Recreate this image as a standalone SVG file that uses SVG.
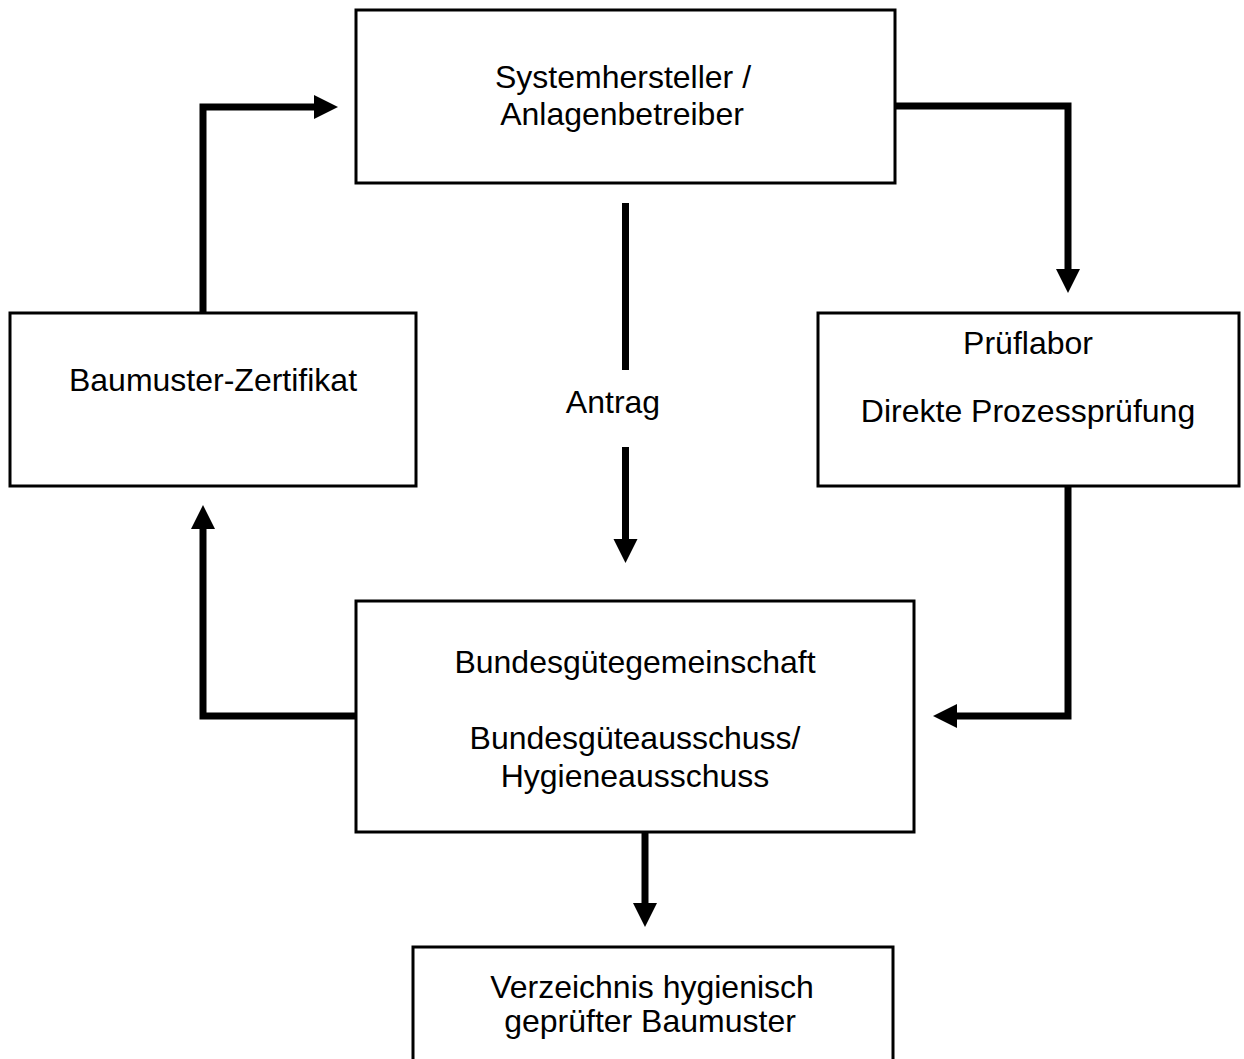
<svg xmlns="http://www.w3.org/2000/svg" width="1244" height="1059" viewBox="0 0 1244 1059">
<style>
.box{fill:#fff;stroke:#000;stroke-width:3}
.t{font-family:"Liberation Sans",Arial,sans-serif;font-size:32px;fill:#000;text-anchor:middle}
.c{fill:none;stroke:#000;stroke-width:7;stroke-linejoin:miter;stroke-linecap:butt}
</style>
<defs>
<marker id="ah" markerUnits="userSpaceOnUse" markerWidth="24" markerHeight="24" refX="0" refY="12" orient="auto" overflow="visible">
<path d="M0,0 L24,12 L0,24 Z" fill="#000"/>
</marker>
</defs>
<rect width="1244" height="1059" fill="#fff"/>
<g id="connectors">
<path class="c" d="M203,313 L203,107 L314,107" marker-end="url(#ah)"/>
<path class="c" d="M895,106 L1068,106 L1068,269" marker-end="url(#ah)"/>
<path class="c" d="M625.5,203 L625.5,370"/>
<path class="c" d="M625.5,447 L625.5,539" marker-end="url(#ah)"/>
<path class="c" d="M356,716 L203,716 L203,529" marker-end="url(#ah)"/>
<path class="c" d="M1068,486 L1068,716 L957,716" marker-end="url(#ah)"/>
<path class="c" d="M645,832 L645,903" marker-end="url(#ah)"/>
<text class="t" x="613" y="413">Antrag</text>
</g>
<g id="hersteller">
<rect class="box" x="356" y="10" width="539" height="173"/>
<text class="t" x="623" y="88">Systemhersteller /</text>
<text class="t" x="622" y="125">Anlagenbetreiber</text>
</g>
<g id="prueflabor">
<rect class="box" x="818" y="313" width="421" height="173"/>
<text class="t" x="1028" y="354">Prüflabor</text>
<text class="t" x="1028" y="422">Direkte Prozessprüfung</text>
</g>
<g id="zertifikat">
<rect class="box" x="10" y="313" width="406" height="173"/>
<text class="t" x="213" y="391">Baumuster-Zertifikat</text>
</g>
<g id="bundes">
<rect class="box" x="356" y="601" width="558" height="231"/>
<text class="t" x="635" y="673">Bundesgütegemeinschaft</text>
<text class="t" x="635" y="749">Bundesgüteausschuss/</text>
<text class="t" x="635" y="787">Hygieneausschuss</text>
</g>
<g id="verzeichnis">
<rect class="box" x="413" y="947" width="480" height="140"/>
<text class="t" x="652" y="998">Verzeichnis hygienisch</text>
<text class="t" x="650" y="1032">geprüfter Baumuster</text>
</g>
</svg>
